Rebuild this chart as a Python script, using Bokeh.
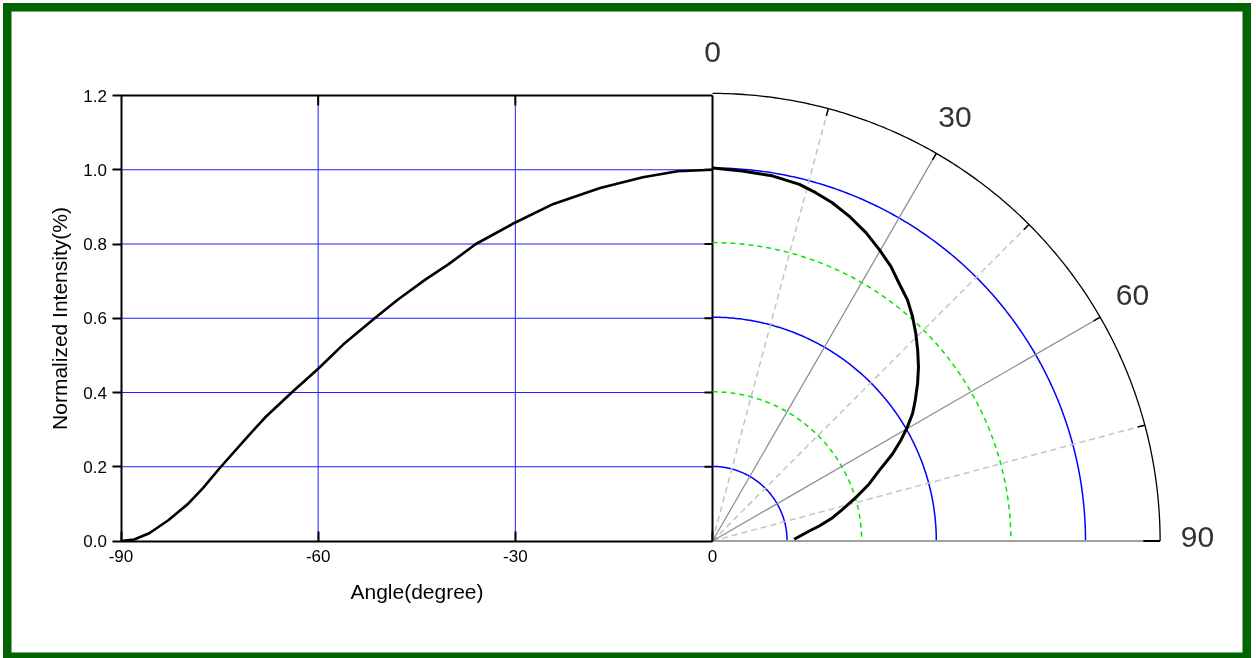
import numpy as np
from bokeh.plotting import figure
from bokeh.models import Range1d, FixedTicker, PrintfTickFormatter
from bokeh.core.properties import value
from bokeh.embed import file_html
from bokeh.resources import INLINE

# ---------------- data ----------------
cart_angle = [-90, -88, -85.7, -82.8, -79.8, -77.5, -74.9, -71, -68, -63.9, -60,
              -56.2, -51.4, -47.9, -43.7, -40.2, -36, -30, -24.2, -17.1, -10.6, -5.3, 0]
cart_intensity = [0.0, 0.004, 0.021, 0.056, 0.1, 0.143, 0.198, 0.276, 0.334, 0.402, 0.464,
                  0.529, 0.6, 0.65, 0.704, 0.745, 0.8, 0.858, 0.908, 0.951, 0.98, 0.996, 1.0]

polar_angle = [0, 4.6, 9.3, 13.7, 16.5, 19.5, 22.8, 26.5, 29.8, 33.0, 35.9, 39.0, 41.7,
               44.4, 47.1, 49.8, 52.5, 55.3, 57.5, 59.7, 61.9, 64.2, 67.1, 70.0, 73.1,
               76.3, 79.0, 82.0, 84.1, 88.8]
polar_intensity = [1.0, 0.995, 0.992, 0.984, 0.974, 0.962, 0.945, 0.923, 0.9, 0.878, 0.853,
                   0.831, 0.806, 0.779, 0.751, 0.723, 0.693, 0.661, 0.636, 0.605, 0.572,
                   0.536, 0.485, 0.447, 0.402, 0.359, 0.328, 0.289, 0.261, 0.219]

x_ticks = [-90, -60, -30, 0]
y_ticks = [0.0, 0.2, 0.4, 0.6, 0.8, 1.0, 1.2]
grid_x = [-60, -30]
grid_y = [0.2, 0.4, 0.6, 0.8, 1.0]

ring_solid = [0.2, 0.6, 1.0]
ring_dashed = [0.4, 0.8]
ring_outer = 1.2
spoke_solid = [30, 60]
spoke_dashed = [15, 45, 75]
spoke_ticks = [15, 30, 45, 60, 75]
polar_label_angle = [0, 30, 60, 90]
polar_label_text = ["0", "30", "60", "90"]

# ---------------- geometry (canvas pixels) ----------------
CW, CH = 1248, 658            # canvas = frame
XM90 = 117.5                  # px of angle -90
X0 = 709.0                    # px of angle 0 / polar centre
Y0 = 537.5                    # px (from top) of intensity 0
Y12 = 92.0                    # px (from top) of intensity 1.2
PX_PER_DEG = (X0 - XM90) / 90.0
KY = (Y0 - Y12) / 1.2
KX = 373.0
x_start = -90 - XM90 / PX_PER_DEG
x_end = -90 + (CW - XM90) / PX_PER_DEG
y_start = -(CH - Y0) / KY
y_end = Y0 / KY
pol_start = -X0 / KX
pol_end = (CW - X0) / KX

p = figure(width=CW, height=CH,
           x_range=Range1d(x_start, x_end), y_range=Range1d(y_start, y_end),
           output_backend="svg", toolbar_location=None,
           min_border_left=0, min_border_right=0, min_border_top=0, min_border_bottom=0,
           min_border=0)
p.extra_x_ranges = {"polar": Range1d(pol_start, pol_end)}
p.styles = {"position": "fixed", "left": "3px", "top": "3px"}
p.background_fill_color = "white"
p.border_fill_color = "white"
p.outline_line_color = "#006400"
p.outline_line_width = 16
p.xgrid.visible = False
p.ygrid.visible = False

FONT = "Liberation Sans"

# axes (kept in their side panels, drawn at fixed data locations)
xa = p.xaxis[0]
xa.fixed_location = 0
xa.ticker = FixedTicker(ticks=x_ticks)
xa.formatter = PrintfTickFormatter(format="%d")
xa.bounds = (-90, 0)
xa.axis_label = "Angle(degree)"
xa.axis_line_color = "black"
xa.axis_line_width = 2
xa.major_tick_in = 10
xa.major_tick_out = 0
xa.major_tick_line_width = 2
xa.minor_tick_line_color = None
xa.major_label_text_font = FONT
xa.major_label_text_font_size = "17px"
xa.major_label_text_color = "black"
xa.major_label_standoff = 9
xa.axis_label_text_font = FONT
xa.axis_label_text_font_size = "21px"
xa.axis_label_text_font_style = "normal"
xa.axis_label_text_color = "black"
xa.axis_label_standoff = 14

ya = p.yaxis[0]
ya.fixed_location = -90
ya.ticker = FixedTicker(ticks=y_ticks)
ya.formatter = PrintfTickFormatter(format="%.1f")
ya.bounds = (0, 1.2)
ya.axis_label = "Normalized Intensity(%)"
ya.axis_line_color = "black"
ya.axis_line_width = 2
ya.major_tick_in = 0
ya.major_tick_out = 9
ya.major_tick_line_width = 2
ya.minor_tick_line_color = None
ya.major_label_text_font = FONT
ya.major_label_text_font_size = "17px"
ya.major_label_text_color = "black"
ya.major_label_standoff = 5
ya.axis_label_text_font = FONT
ya.axis_label_text_font_size = "21px"
ya.axis_label_text_font_style = "normal"
ya.axis_label_text_color = "black"
ya.axis_label_standoff = 10

# ---------------- cartesian grid & frame ----------------
BLUE = "#1f1fff"
p.segment(x0=[-90] * len(grid_y), y0=grid_y, x1=[0] * len(grid_y), y1=grid_y,
          line_color=BLUE, line_width=1)
p.segment(x0=grid_x, y0=[0] * len(grid_x), x1=grid_x, y1=[1.2] * len(grid_x),
          line_color=BLUE, line_width=1)
p.segment(x0=[-90, 0], y0=[1.2, 0], x1=[0, 0], y1=[1.2, 1.2], line_color="black", line_width=2)
tick_v = 10 / KY
tick_h = 8 / PX_PER_DEG
p.segment(x0=grid_x, y0=[1.2] * len(grid_x), x1=grid_x, y1=[1.2 - tick_v] * len(grid_x),
          line_color="black", line_width=2)
p.segment(x0=[0] * len(grid_y), y0=grid_y, x1=[-tick_h] * len(grid_y), y1=grid_y,
          line_color="black", line_width=2)

p.line(cart_angle, cart_intensity, line_color="black", line_width=2.6, line_join="round")

# ---------------- polar part ----------------
asp = KX / KY
theta = np.radians(np.linspace(0, 90, 181))


def ring_xy(r):
    return list(r * np.sin(theta)), list(r * np.cos(theta) * asp)


def spoke_xy(deg, r0, r1):
    t = np.radians(deg)
    return [r0 * np.sin(t), r1 * np.sin(t)], [r0 * np.cos(t) * asp, r1 * np.cos(t) * asp]


xs, ys = zip(*[ring_xy(r) for r in ring_solid])
p.multi_line(list(xs), list(ys), x_range_name="polar", line_color="#0000ff", line_width=1.5)
xs, ys = zip(*[ring_xy(r) for r in ring_dashed])
p.multi_line(list(xs), list(ys), x_range_name="polar", line_color="#00e600", line_width=1.5,
             line_dash="5 4")

xs, ys = zip(*[spoke_xy(d, 0, ring_outer) for d in spoke_dashed])
p.multi_line(list(xs), list(ys), x_range_name="polar", line_color="#c4c4c4", line_width=1.5,
             line_dash="6 4")
xs, ys = zip(*[spoke_xy(d, 0, ring_outer) for d in spoke_solid])
p.multi_line(list(xs), list(ys), x_range_name="polar", line_color="#8a8a8a", line_width=1.2)

ox, oy = ring_xy(ring_outer)
p.line(ox, oy, x_range_name="polar", line_color="black", line_width=1.3)
bx, by = spoke_xy(90, 0, ring_outer)
p.line(bx, by, x_range_name="polar", line_color="#a0a0a0", line_width=2)
xs, ys = zip(*[spoke_xy(d, ring_outer - 0.02, ring_outer) for d in spoke_ticks])
p.multi_line(list(xs), list(ys), x_range_name="polar", line_color="black", line_width=1.5)
ex, ey = spoke_xy(90, ring_outer - 0.045, ring_outer)
p.line(ex, ey, x_range_name="polar", line_color="black", line_width=2)

pa = np.radians(np.array(polar_angle))
pr = np.array(polar_intensity)
p.line(list(pr * np.sin(pa)), list(pr * np.cos(pa) * asp), x_range_name="polar",
       line_color="black", line_width=3, line_join="round")

la = np.radians(np.array(polar_label_angle))
LR = 1.30
p.text(x=list(LR * np.sin(la)), y=list(LR * np.cos(la) * asp), text=polar_label_text,
       x_range_name="polar", text_align="center", text_baseline="middle", y_offset=-4,
       text_font=value(FONT), text_font_size="30px", text_color="#333333")

open("out.html", "w").write(file_html(p, INLINE))
